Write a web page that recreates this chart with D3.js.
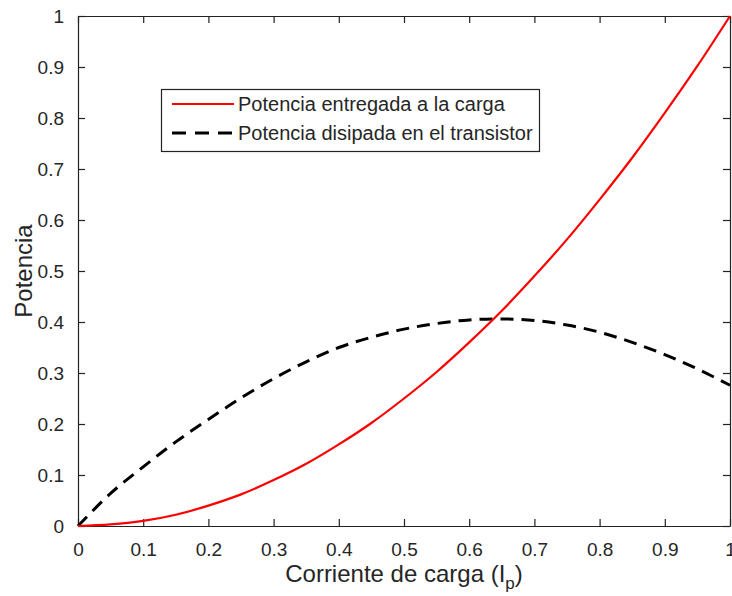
<!DOCTYPE html>
<html>
<head>
<meta charset="utf-8">
<script src="https://cdnjs.cloudflare.com/ajax/libs/d3/7.8.5/d3.min.js"></script>
<style>
    body { margin: 0; background: #fff; }
    text { font-family: "Liberation Sans", Arial, sans-serif; fill: #262626; }
</style>
</head>
<body>
<div id="chart"></div>
<script>
    'use strict';

    // corriente de carga (eje x)
    var corriente = [0, 0.05, 0.1, 0.15, 0.2, 0.25, 0.3, 0.35, 0.4, 0.45, 0.5,
        0.55, 0.6, 0.65, 0.7, 0.75, 0.8, 0.85, 0.9, 0.95, 1];

    // potencia entregada a la carga (linea roja)
    var potenciaCarga = [0, 0.003, 0.010, 0.022, 0.040, 0.062, 0.090, 0.122, 0.160, 0.202, 0.250,
        0.302, 0.360, 0.422, 0.490, 0.562, 0.640, 0.722, 0.810, 0.902, 1.000];

    // potencia disipada en el transistor (linea discontinua)
    var potenciaTransistor = [0, 0.064, 0.116, 0.165, 0.209, 0.251, 0.289, 0.322, 0.350, 0.370, 0.386,
        0.397, 0.404, 0.406, 0.403, 0.394, 0.380, 0.360, 0.336, 0.308, 0.276];

    var xTicks = [0, 0.1, 0.2, 0.3, 0.4, 0.5, 0.6, 0.7, 0.8, 0.9, 1];
    var yTicks = [0, 0.1, 0.2, 0.3, 0.4, 0.5, 0.6, 0.7, 0.8, 0.9, 1];

    var legendLabels = ['Potencia entregada a la carga', 'Potencia disipada en el transistor'];

    var width = 732, height = 596;
    var plotL = 78, plotR = 730, plotT = 16, plotB = 526;

    var svg = d3.select('#chart')
        .append('svg')
        .attr('width', width)
        .attr('height', height);

    var x = d3.scaleLinear().domain([0, 1]).range([plotL, plotR]);
    var y = d3.scaleLinear().domain([0, 1]).range([plotB, plotT]);

    var tickFmt = function (d) { return String(+d.toFixed(1)); };

    // ejes (ticks hacia dentro, en los cuatro lados)
    var xAxis = d3.axisBottom(x).tickValues(xTicks).tickSizeInner(-7).tickSizeOuter(0)
        .tickPadding(17).tickFormat(tickFmt);
    var yAxis = d3.axisLeft(y).tickValues(yTicks).tickSizeInner(-7).tickSizeOuter(0)
        .tickPadding(14).tickFormat(tickFmt);
    var xTop = d3.axisTop(x).tickValues(xTicks).tickSizeInner(-7).tickSizeOuter(0).tickFormat('');
    var yRight = d3.axisRight(y).tickValues(yTicks).tickSizeInner(-7).tickSizeOuter(0).tickFormat('');

    var gx = svg.append('g').attr('transform', 'translate(0,' + plotB + ')').call(xAxis);
    var gy = svg.append('g').attr('transform', 'translate(' + plotL + ',0)').call(yAxis);
    var gt = svg.append('g').attr('transform', 'translate(0,' + plotT + ')').call(xTop);
    var gr = svg.append('g').attr('transform', 'translate(' + plotR + ',0)').call(yRight);

    [gx, gy, gt, gr].forEach(function (g) {
        g.selectAll('path.domain').attr('stroke', '#222').attr('stroke-width', 1.2);
        g.selectAll('.tick line').attr('stroke', '#222').attr('stroke-width', 1.2);
        g.selectAll('.tick text')
            .attr('font-family', '"Liberation Sans", Arial, sans-serif')
            .attr('font-size', 19)
            .attr('fill', '#262626');
    });

    // etiquetas de los ejes
    var xl = svg.append('text')
        .attr('x', (plotL + plotR) / 2)
        .attr('y', 582)
        .attr('text-anchor', 'middle')
        .attr('font-size', 24);
    xl.append('tspan').text('Corriente de carga (I');
    xl.append('tspan').attr('font-size', 17).attr('dy', 7).text('p');
    xl.append('tspan').attr('dy', -7).text(')');

    svg.append('text')
        .attr('transform', 'translate(32,' + ((plotT + plotB) / 2) + ') rotate(-90)')
        .attr('text-anchor', 'middle')
        .attr('font-size', 24)
        .text('Potencia');

    // curvas
    var puntos = function (vals) {
        return corriente.map(function (c, i) { return [c, vals[i]]; });
    };

    var line = d3.line()
        .x(function (d) { return x(d[0]); })
        .y(function (d) { return y(d[1]); })
        .curve(d3.curveCatmullRom);

    svg.append('path')
        .datum(puntos(potenciaTransistor))
        .attr('d', line)
        .attr('fill', 'none')
        .attr('stroke', '#000')
        .attr('stroke-width', 3)
        .attr('stroke-dasharray', '13,8');

    svg.append('path')
        .datum(puntos(potenciaCarga))
        .attr('d', line)
        .attr('fill', 'none')
        .attr('stroke', '#ff0000')
        .attr('stroke-width', 2.2);

    // leyenda
    var legend = svg.append('g');
    legend.append('rect')
        .attr('x', 161.5)
        .attr('y', 89.5)
        .attr('width', 378)
        .attr('height', 62)
        .attr('fill', '#fff')
        .attr('stroke', '#222')
        .attr('stroke-width', 1.2);

    var estilos = [
        { color: '#ff0000', dash: null, w: 2.2 },
        { color: '#000', dash: '14,9', w: 3 }
    ];

    legendLabels.forEach(function (lab, i) {
        var ly = 104 + i * 29;
        legend.append('line')
            .attr('x1', 172).attr('x2', 234)
            .attr('y1', ly).attr('y2', ly)
            .attr('stroke', estilos[i].color)
            .attr('stroke-width', estilos[i].w)
            .attr('stroke-dasharray', estilos[i].dash);
        legend.append('text')
            .attr('x', 238)
            .attr('y', ly + 7)
            .attr('font-size', 20)
            .text(lab);
    });
</script>
</body>
</html>
